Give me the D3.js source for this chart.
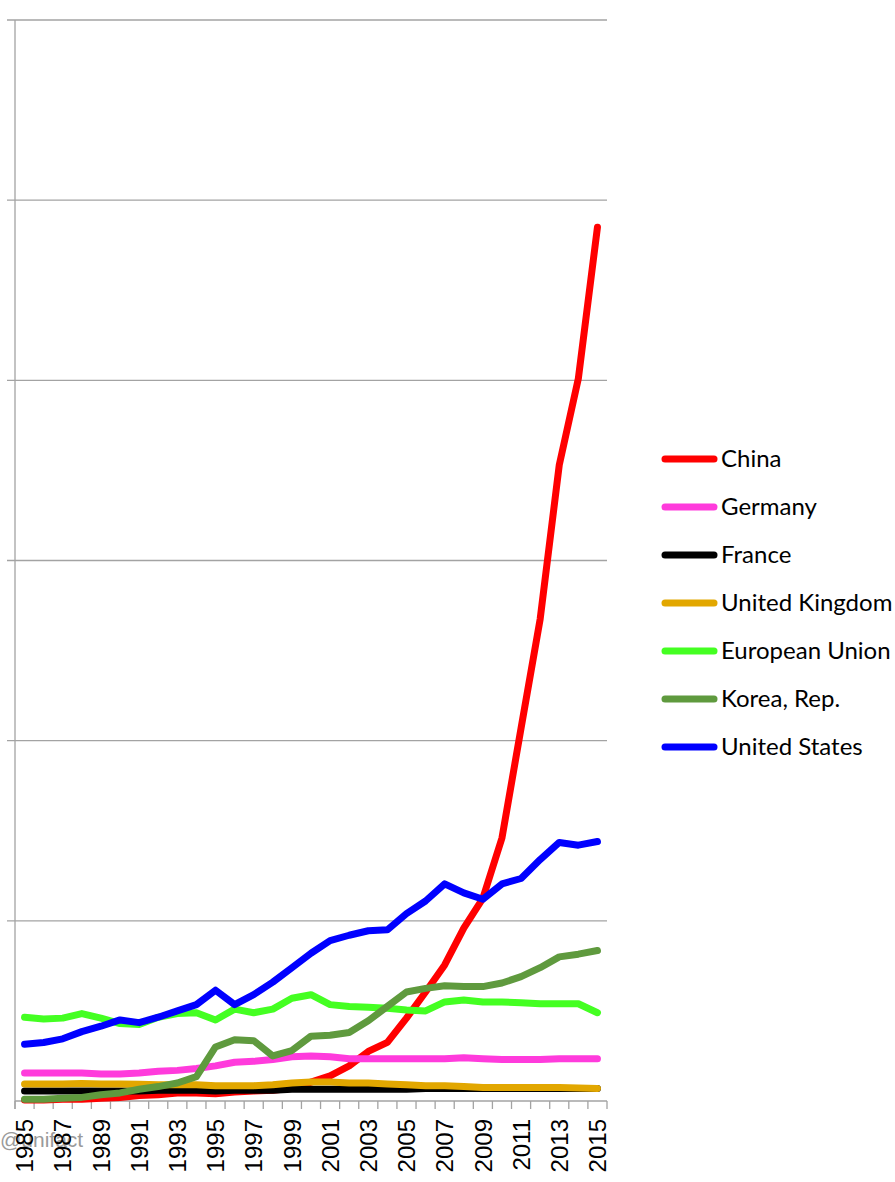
<!DOCTYPE html>
<html>
<head>
<meta charset="utf-8">
<script src="https://cdn.jsdelivr.net/npm/d3@7"></script>
<style>
  body { margin: 0; background: #fff; }
  svg { display: block; }
</style>
</head>
<body>
<svg id="chart" width="895" height="1182"></svg>
<script>
// resident patent applications, thousands
var years = d3.range(1985, 2016);
var china   = [1, 1, 2, 2, 3, 4, 6, 7, 9, 9, 8, 10, 11, 12, 14, 21, 28, 39, 55, 65, 92, 121, 151, 192, 225, 292, 414, 535, 706, 802, 970];
var germany = [31, 31, 31, 31, 30, 30, 31, 33, 34, 36, 39, 43, 44, 46, 49, 50, 49, 47, 47, 47, 47, 47, 47, 48, 47, 46, 46, 46, 47, 47, 47];
var france  = [11, 11, 11, 11, 11, 11, 11, 12, 12, 12, 11, 12, 12, 12, 13, 13, 13, 13, 13, 13, 13, 14, 14, 14, 14, 14, 14, 14, 14, 14, 14];
var uk      = [19, 19, 19, 19.5, 19, 19, 18.5, 18, 18, 18, 17, 17, 17, 18, 20, 21, 21, 20, 20, 19, 18, 17, 17, 16, 15, 15, 15, 15, 15, 14.5, 14];
var eu      = [93, 91, 92, 97, 92, 86, 85, 93, 97, 98, 90, 102, 98, 102, 114, 118, 107, 105, 104, 103, 101, 100, 110, 112, 110, 110, 109, 108, 108, 108, 98];
var korea   = [2, 2, 3, 4, 7, 9, 13, 16, 20, 27, 60, 68, 67, 50, 56, 72, 73, 76, 89, 105, 121, 125, 128, 127, 127, 131, 138, 148, 160, 163, 167];
var usa     = [63, 65, 69, 77, 83, 90, 87, 93, 100, 107, 123, 107, 118, 132, 148, 164, 178, 184, 189, 190, 208, 222, 241, 231, 224, 241, 247, 268, 287, 284, 288];

var seriesNames  = ["China", "Germany", "France", "United Kingdom", "European Union", "Korea, Rep.", "United States"];
var seriesValues = [china, germany, france, uk, eu, korea, usa];
var seriesColors = ["#ff0000", "#ff3bdc", "#000000", "#e2a700", "#44ff22", "#5f9a3e", "#0000ff"];
var yTicks = [200, 400, 600, 800, 1000, 1200];
var xLabels = years.filter(function(d) { return (d - 1985) % 2 === 0; });

var svg = d3.select("svg#chart");

var x = d3.scaleBand().domain(years).range([15, 607]);
var y = d3.scaleLinear().domain([0, 1200]).range([1101, 20]);
var cx = function(d) { return x(d) + x.bandwidth() / 2; };

// gridlines
svg.append("g").selectAll("line")
  .data(yTicks)
  .enter().append("line")
    .attr("x1", 7).attr("x2", 607)
    .attr("y1", function(d) { return y(d); })
    .attr("y2", function(d) { return y(d); })
    .attr("stroke", "#a3a3a3")
    .attr("stroke-width", 1.3);

// y axis line
svg.append("line")
  .attr("x1", 15).attr("x2", 15)
  .attr("y1", y(1200)).attr("y2", 1109)
  .attr("stroke", "#a3a3a3")
  .attr("stroke-width", 1.3);

// watermark (sits behind the year labels)
svg.append("text")
  .attr("x", 0).attr("y", 1147)
  .attr("font-family", "Liberation Sans, Arial, sans-serif")
  .attr("font-size", 21)
  .attr("fill", "#9a9a9a")
  .text("@unifact");

// x axis: ticks on the category boundaries
var boundaries = years.map(function(d) { return x(d); }).concat([x.range()[1]]);
svg.append("line")
  .attr("x1", 15).attr("x2", 607)
  .attr("y1", 1101).attr("y2", 1101)
  .attr("stroke", "#a3a3a3")
  .attr("stroke-width", 1.3);
svg.append("g").selectAll("line")
  .data(boundaries)
  .enter().append("line")
    .attr("x1", function(d) { return d; })
    .attr("x2", function(d) { return d; })
    .attr("y1", 1101).attr("y2", 1109)
    .attr("stroke", "#a3a3a3")
    .attr("stroke-width", 1.3);

svg.append("g").selectAll("text")
  .data(xLabels)
  .enter().append("text")
    .attr("transform", function(d) { return "translate(" + cx(d) + ",1119) rotate(-90)"; })
    .attr("text-anchor", "end")
    .attr("dy", "0.36em")
    .attr("font-family", "Liberation Sans, Arial, sans-serif")
    .attr("font-size", 24)
    .attr("fill", "#000")
    .text(function(d) { return d; });

// series lines
var line = d3.line()
  .x(function(d, i) { return cx(years[i]); })
  .y(function(d) { return y(d); });

svg.append("g").selectAll("path")
  .data(seriesValues)
  .enter().append("path")
    .attr("d", line)
    .attr("fill", "none")
    .attr("stroke", function(d, i) { return seriesColors[i]; })
    .attr("stroke-width", 7)
    .attr("stroke-linejoin", "round")
    .attr("stroke-linecap", "round");

// legend
var legend = svg.append("g").selectAll("g")
  .data(seriesNames)
  .enter().append("g")
    .attr("transform", function(d, i) { return "translate(0," + (459 + i * 48) + ")"; });

legend.append("line")
  .attr("x1", 665).attr("x2", 714)
  .attr("stroke", function(d, i) { return seriesColors[i]; })
  .attr("stroke-width", 7)
  .attr("stroke-linecap", "round");

legend.append("text")
  .attr("x", 721)
  .attr("dy", "0.35em")
  .attr("font-family", "Lato, sans-serif")
  .attr("font-size", 24)
  .attr("fill", "#000")
  .text(function(d) { return d; });
</script>
</body>
</html>
